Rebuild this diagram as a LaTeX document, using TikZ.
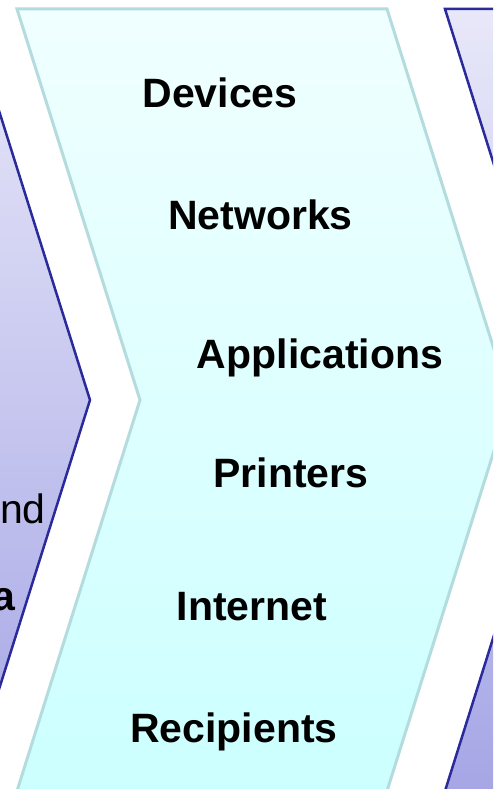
\documentclass[tikz,border=0pt]{standalone}
\usepackage{fontspec}
\setmainfont{Liberation Sans}
\definecolor{cyantop}{HTML}{F0FFFF}
\definecolor{cyanbot}{HTML}{CCFFFF}
\definecolor{cyanline}{HTML}{B4DCDE}
\definecolor{purtop}{HTML}{E8E8F9}
\definecolor{purbot}{HTML}{A6A6E6}
\definecolor{purline}{HTML}{2A2A9A}
\tikzset{
  cyanchev/.style={draw=cyanline, line width=3pt, top color=cyantop, bottom color=cyanbot, line join=miter},
  purchev/.style={draw=purline, line width=2.5pt, top color=purtop, bottom color=purbot, line join=miter},
  lbl/.style={font=\fontsize{41}{49}\selectfont\bfseries, inner sep=0pt, text=black},
  lblreg/.style={font=\fontsize{41}{49}\selectfont, inner sep=0pt, text=black},
}
\begin{document}
\begin{tikzpicture}[x=1pt,y=-1pt]
\useasboundingbox (0,0) rectangle (493,789);
\clip (0,0) rectangle (493,789);
% left chevron (partly visible)
\path[purchev] (-403,9) -- (-33,9) -- (90,400) -- (-33,791) -- (-403,791) -- (-280,400) -- cycle;
% middle chevron
\path[cyanchev] (17,9) -- (387,9) -- (510,400) -- (387,791) -- (17,791) -- (140,400) -- cycle;
% right chevron (partly visible)
\path[purchev] (445,9) -- (815,9) -- (938,400) -- (815,791) -- (445,791) -- (568,400) -- cycle;
% texts
\node[lbl, anchor=base] (dev) at (220,107) {Devices};
\node[lbl, anchor=base] (net) at (260.5,229) {Networks};
\node[lbl, anchor=base] (app) at (320,368) {Applications};
\node[lbl, anchor=base] (prn) at (291,487.5) {Printers};
\node[lbl, anchor=base] (inet) at (252,620) {Internet};
\node[lbl, anchor=base] (rcp) at (234,742) {Recipients};
\node[lblreg, anchor=base east] (nd) at (46,523) {nd};
\node[lbl, anchor=base east] (a) at (16,610) {a};
\end{tikzpicture}
\end{document}
